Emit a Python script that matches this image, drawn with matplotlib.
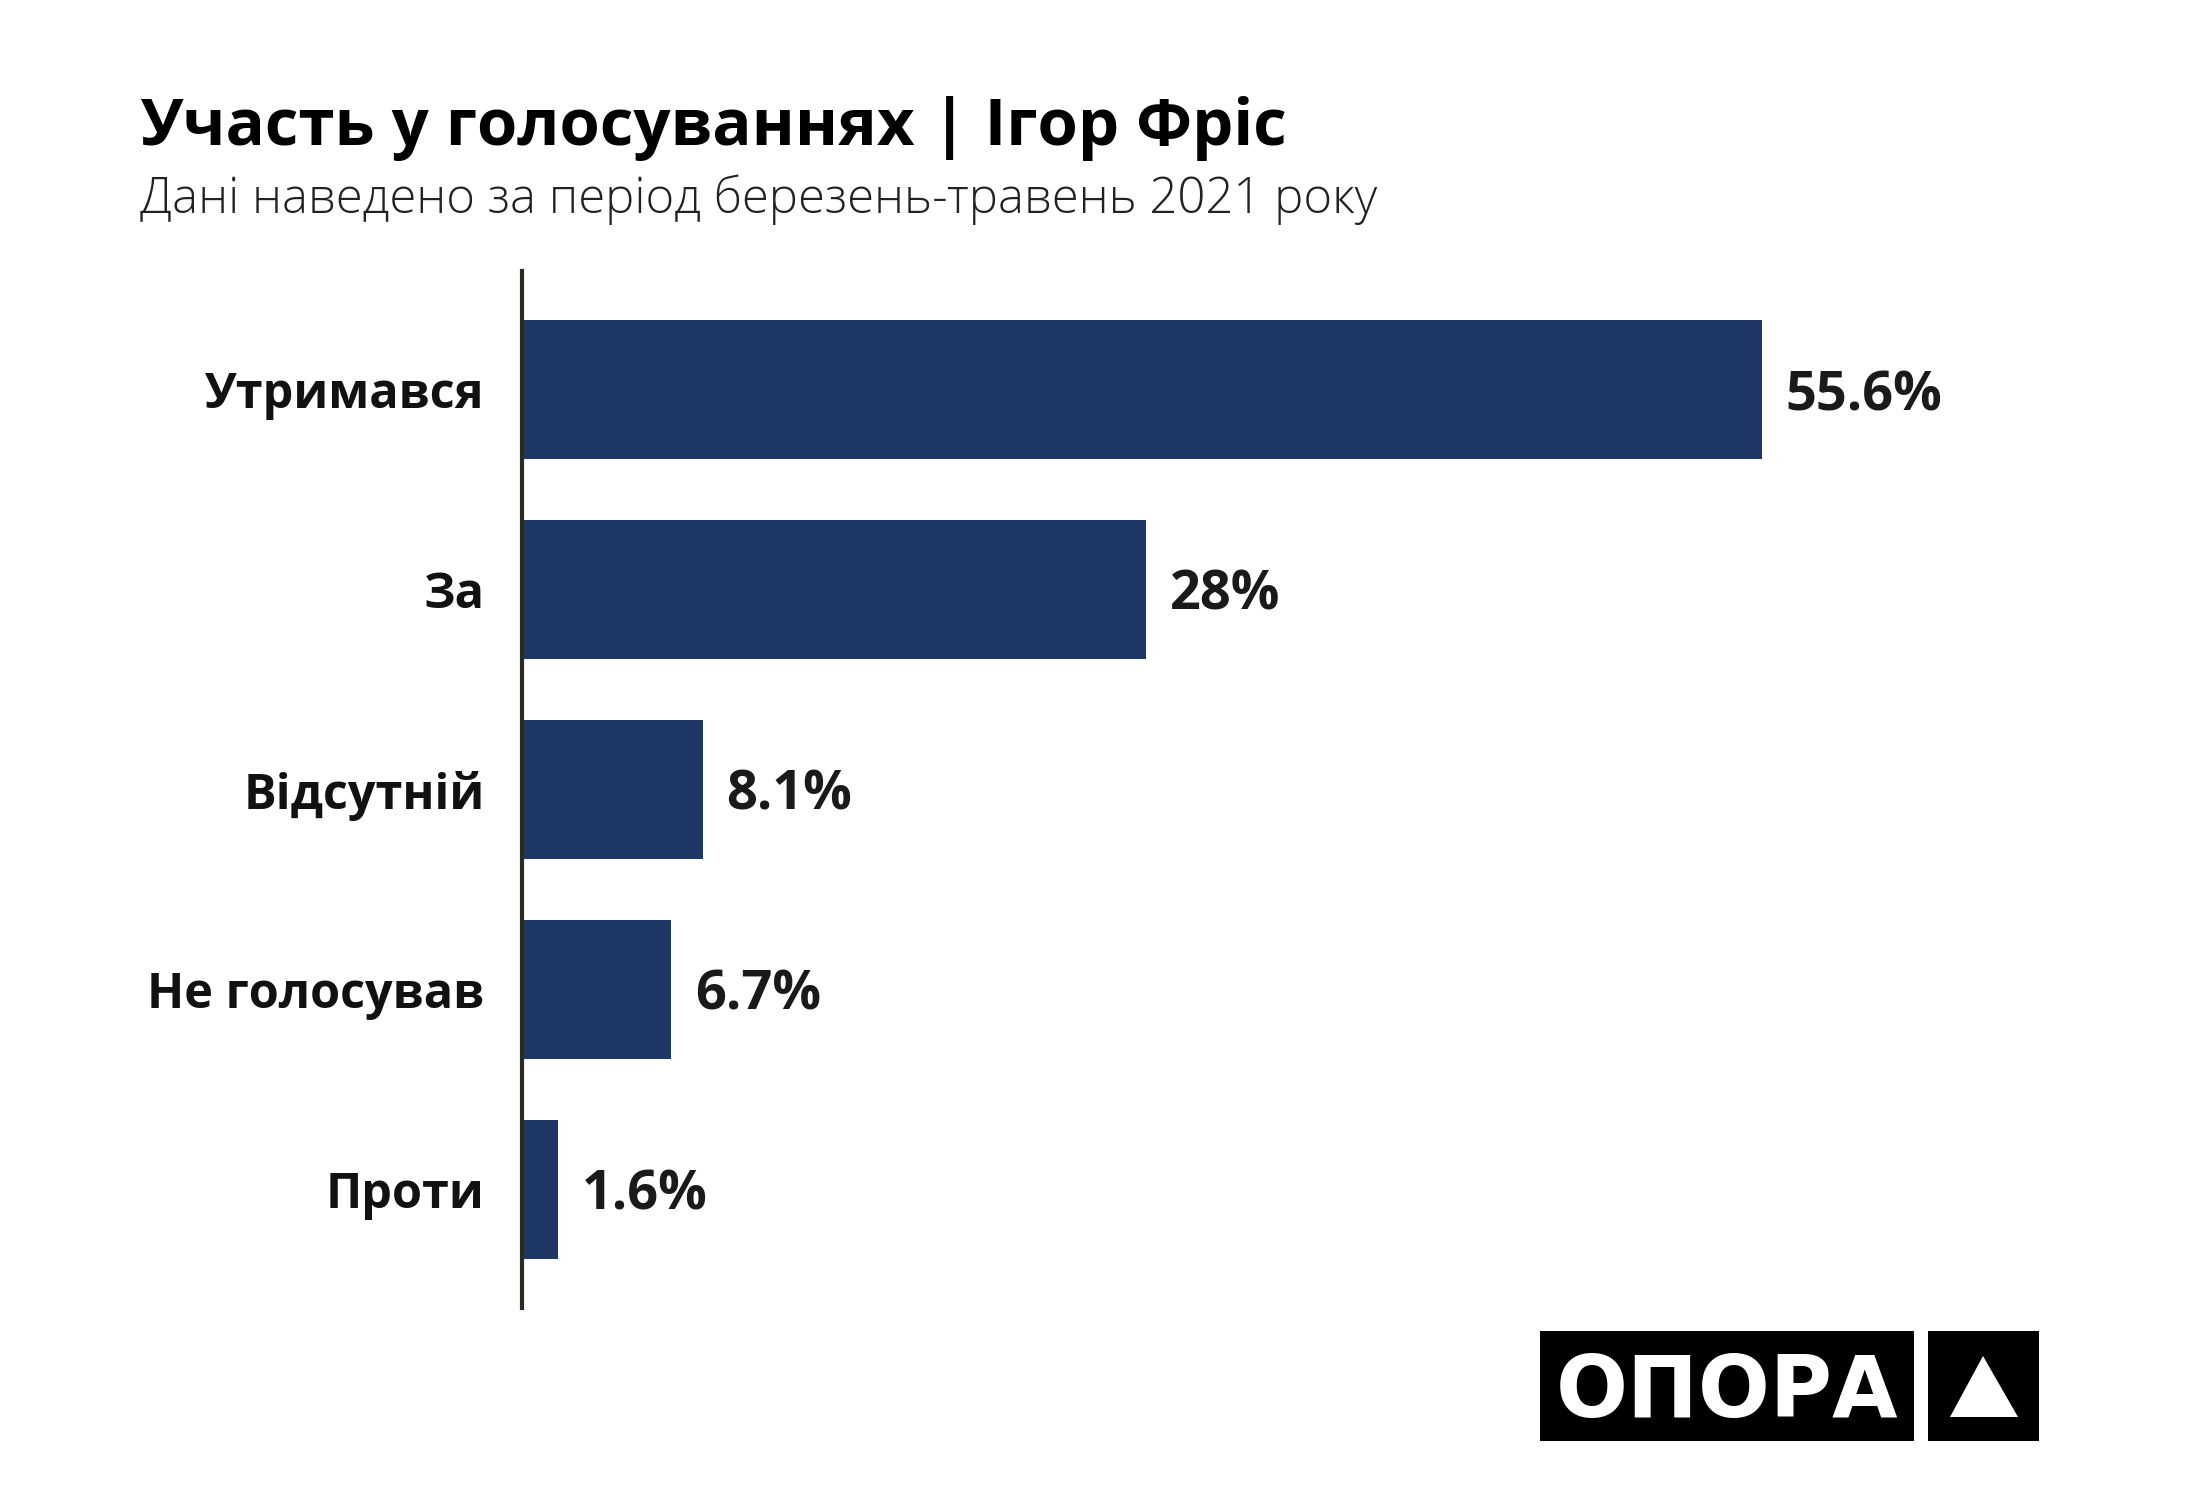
import matplotlib.pyplot as plt
from matplotlib.patches import Rectangle, Polygon

categories = ['Утримався', 'За', 'Відсутній', 'Не голосував', 'Проти']
values = [55.6, 28, 8.1, 6.7, 1.6]

title = 'Участь у голосуваннях | Ігор Фріс'
subtitle = 'Дані наведено за період березень-травень 2021 року'

plt.rcParams['font.family'] = ['Open Sans', 'DejaVu Sans']

fig = plt.figure(figsize=(22, 15), dpi=100)
ax = fig.add_axes([0.2373, 0.128, 0.75, 0.6913])

ypos = list(range(len(categories)))
ax.barh(ypos, values, height=0.695, color='#1e3765')
ax.set_xlim(0, 74)
ax.set_ylim(len(categories) - 0.405, -0.595)

ax.set_yticks(ypos)
ax.set_yticklabels(categories, fontsize=35, fontweight='bold', color='#111111')
ax.tick_params(axis='y', length=0, pad=27)
ax.set_xticks([])
for s in ['top', 'right', 'bottom']:
    ax.spines[s].set_visible(False)
ax.spines['left'].set_linewidth(3)
ax.spines['left'].set_color('#2b2b25')

for y, v in zip(ypos, values):
    ax.annotate(f'{v:g}%', (v, y), xytext=(17, -14.5), textcoords='offset points',
                ha='left', va='baseline', fontsize=39, fontweight='bold', color='#1a1a1a')

fig.text(0.0636, 0.9033, title, fontsize=47, fontweight='bold', color='#000000', va='baseline')
fig.text(0.0636, 0.858, subtitle, fontsize=35.3, fontweight='light', color='#222222', va='baseline')

# logo
fig.patches.append(Rectangle((0.7, 0.0393), 0.17, 0.0733, transform=fig.transFigure,
                             facecolor='black', edgecolor='none'))
fig.patches.append(Rectangle((0.8764, 0.0393), 0.05045, 0.0733, transform=fig.transFigure,
                             facecolor='black', edgecolor='none'))
fig.patches.append(Polygon([(1950 / 2200, 1 - 1417 / 1500), (2018 / 2200, 1 - 1417 / 1500),
                            (1983 / 2200, 1 - 1356 / 1500)], closed=True, transform=fig.transFigure,
                           facecolor='white', edgecolor='none'))
fig.text(1727 / 2200, 1 - 1417 / 1500, 'ОПОРА', family='DejaVu Sans', fontsize=61,
         fontweight='bold', color='white', ha='center', va='baseline')

fig.savefig('out.png', dpi=100, facecolor='white')
